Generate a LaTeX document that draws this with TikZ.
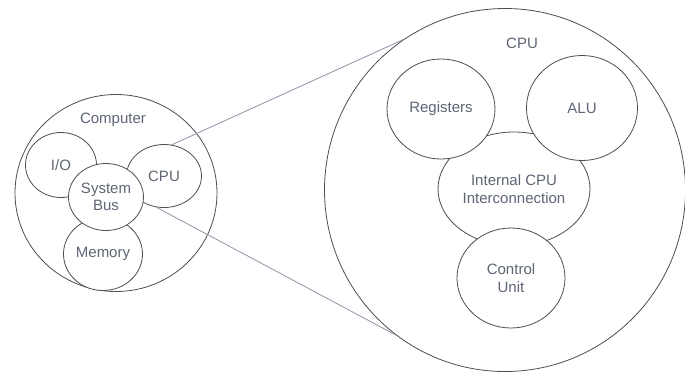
\documentclass[tikz,border=0pt]{standalone}
\usepackage{fontspec}
\setmainfont{Liberation Sans}
\usepackage{tikz}
\usetikzlibrary{shapes.geometric}

\definecolor{labelgray}{HTML}{5E6574}
\definecolor{rimgray}{HTML}{4E4E4E}
\definecolor{zoomline}{HTML}{8A96A6}

\begin{document}
\begin{tikzpicture}[x=1pt,y=-1pt]
        \tikzstyle{part}=[ellipse,draw=rimgray,line width=0.8pt,fill=white,
            inner sep=0pt,align=center,text=labelgray,
            font=\fontsize{15}{17.5}\selectfont]
        \tikzstyle{caption}=[text=labelgray,font=\fontsize{15}{17.5}\selectfont]
            \useasboundingbox (0,0) rectangle (685,376);

            % the computer
            \node[part,minimum width=202pt,minimum height=197pt] (computer) at (116,193) {};
            \node[part,minimum width=71pt,minimum height=65pt] (io) at (61,165) {I/O};
            \node[part,minimum width=75pt,minimum height=63pt] (cpu) at (164,176) {CPU};
            \node[part,minimum width=79pt,minimum height=73pt] (memory) at (103,254) {Memory};
            \node[part,minimum width=75pt,minimum height=67pt] (bus) at (106,197) {System\\Bus};
            \node[caption] (computerlabel) at (113,120) {Computer};

            % the cpu, enlarged
            \node[part,minimum width=361pt,minimum height=363pt] (bigcpu) at (505,190) {};
            \node[part,minimum width=152pt,minimum height=114pt] (internal) at (514,189)
                {Internal CPU\\Interconnection};
            \node[part,minimum width=108pt,minimum height=100pt] (registers) at (441,109) {Registers};
            \node[part,minimum width=111pt,minimum height=105pt] (alu) at (582,108) {ALU};
            \node[part,minimum width=108pt,minimum height=100pt] (control) at (511,278) {Control\\Unit};
            \node[caption] (cpulabel) at (522,43) {CPU};

            \draw[zoomline, line width=0.8pt] (cpu.76) -- (bigcpu.124);
            \draw[zoomline, line width=0.8pt] (cpu.256) -- (bigcpu.233);
        \end{tikzpicture}
\end{document}
